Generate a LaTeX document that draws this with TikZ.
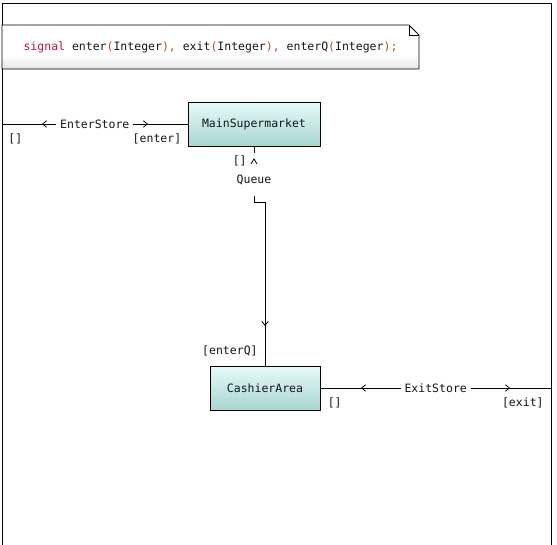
\documentclass[tikz,border=0pt]{standalone}
\usepackage{fontspec}
\setmonofont{DejaVu Sans Mono}
\usetikzlibrary{arrows.meta,positioning,decorations.markings}
\usepackage{xcolor}

\definecolor{boxtop}{HTML}{E4FBF9}
\definecolor{boxbot}{HTML}{A9D5D1}
\definecolor{kwred}{HTML}{B8173C}
\definecolor{punct}{HTML}{B4501E}
\definecolor{lbltext}{HTML}{14141E}

\tikzset{
    monotext/.style={font=\ttfamily\fontsize{11.5}{13}\selectfont, text=lbltext},
    partbox/.style={
        rectangle,
        draw,
        line width=0.8pt,
        minimum height=44pt,
        top color=boxtop,
        bottom color=boxbot,
        monotext
    },
    flowlbl/.style={fill=white, inner xsep=4pt, inner ysep=2pt, monotext},
    portlbl/.style={inner sep=0pt, monotext},
    barb/.tip={Straight Barb[length=4pt,width=6.5pt]}
}

\begin{document}
\begin{tikzpicture}[x=1pt, y=-1pt, line width=0.8pt, node distance=1cm]
        \useasboundingbox (0,0) rectangle (557,545);

        % outer frame, open at the bottom
        \draw (2,545) -- (2,3) -- (551,3) -- (551,545);
        \coordinate (enterEnd) at (2,124);
        \coordinate (exitEnd) at (551,388);

        % signal declaration note
        \fill[white] (2,25) -- (409,25) -- (419,35) -- (419,69) -- (2,69) -- cycle;
        \shade[top color=white, bottom color=gray!20] (2,55) rectangle (419,69);
        \draw (2,25) -- (409,25) -- (419,35) -- (419,69) -- (2,69) -- cycle;
        \draw (409,25) -- (409,35) -- (419,35);
        \node (sigdecl) [monotext, inner sep=0pt] at (210.5,47)
        {
            {\color{kwred}signal} enter{\color{punct}(}Integer{\color{punct}),} exit{\color{punct}(}Integer{\color{punct}),} enterQ{\color{punct}(}Integer{\color{punct});}
        };

        \node (MainSupermarket) [
            partbox,
            minimum width=132pt
        ] at (254,124) {MainSupermarket};

        \node (CashierArea) [
            partbox,
            minimum width=110pt
        ] at (265,388) {CashierArea};

        \coordinate (queueBend) at (265,202);

        % connectors
        \draw[postaction={decorate}, decoration={markings,
                mark=at position 39.6pt with {\arrowreversed{barb}},
                mark=at position 145.6pt with {\arrow{barb}}}]
            (MainSupermarket.west) -- node[flowlbl] (enterLbl) {EnterStore} (enterEnd);
        \draw[postaction={decorate}, decoration={markings,
                mark=at position 40.6pt with {\arrowreversed{barb}},
                mark=at position 189.6pt with {\arrow{barb}}}]
            (CashierArea.east) -- node[flowlbl] (exitLbl) {ExitStore} (exitEnd);
        \draw[postaction={decorate}, decoration={markings,
                mark=at position 190.6pt with {\arrow{barb}}}]
            (MainSupermarket.south) |- (queueBend) -- (CashierArea.north);
        \node (queueLbl) [
            flowlbl,
            anchor=base,
            inner ysep=0pt,
            text height=31pt,
            text depth=12pt
        ] at (254,184) {Queue};
        \draw (251,164) -- (254,159) -- (257,164);

        % port labels
        \node (enterSrc) [portlbl, below right=9pt and 6pt of enterEnd] {[]};
        \node (enterTgt) [portlbl, below left=9pt and 6pt of MainSupermarket.west] {[enter]};
        \node (queueSrc) [portlbl, below left=9pt and 7pt of MainSupermarket.south] {[]};
        \node (queueTgt) [portlbl, above left=9pt and 7pt of CashierArea.north] {[enterQ]};
        \node (exitSrc) [portlbl, below right=9pt and 7pt of CashierArea.east] {[]};
        \node (exitTgt) [portlbl, below left=9pt and 7pt of exitEnd] {[exit]};
\end{tikzpicture}
\end{document}
